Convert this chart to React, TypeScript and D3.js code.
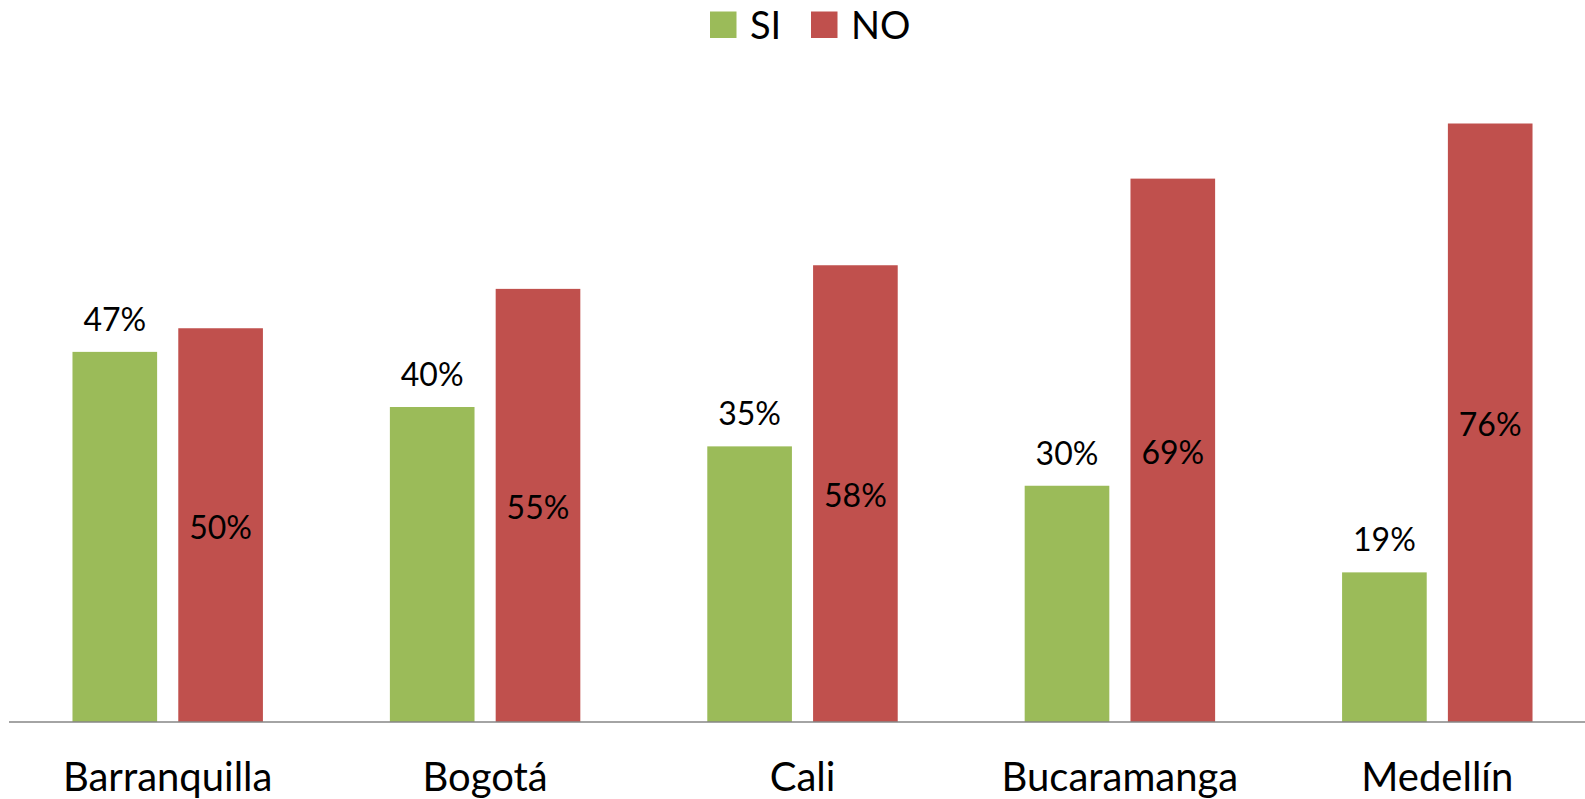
import React from "react";
import * as d3 from "d3";

const categories = ["Barranquilla", "Bogotá", "Cali", "Bucaramanga", "Medellín"];
const series = ["SI", "NO"];
const siValues = [47, 40, 35, 30, 19];
const noValues = [50, 55, 58, 69, 76];
const colors = { SI: "#9BBB59", NO: "#C0504D" };

const W = 1585;
const H = 799;
const FONT = "Lato, 'Open Sans', sans-serif";

export default function App() {
  const x0 = d3.scaleBand<string>().domain(categories).range([9, 1596]).paddingInner(0).paddingOuter(0);
  const x1 = d3.scaleBand<string>().domain(series).range([0, x0.bandwidth()]).paddingInner(0.2).paddingOuter(0.6);
  const y = d3.scaleLinear().domain([0, 80]).range([722, 92]);
  const valuesBy: Record<string, number[]> = { SI: siValues, NO: noValues };

  return (
    <svg width={W} height={H} style={{ position: "absolute", left: 0, top: 0, background: "#fff" }} fontFamily={FONT}>
      {/* legend */}
      <g>
        <rect x={710} y={11.5} width={26.5} height={26.5} fill={colors.SI} />
        <text x={750} y={38.5} fontSize={38} fill="#000">SI</text>
        <rect x={811} y={11.5} width={26.5} height={26.5} fill={colors.NO} />
        <text x={851} y={38.5} fontSize={38} fill="#000">NO</text>
      </g>
      {categories.map((c, i) => (
        <g key={c} transform={`translate(${x0(c)},0)`}>
          {series.map((s) => {
            const v = valuesBy[s][i];
            const bx = x1(s)!;
            const bw = x1.bandwidth();
            const top = y(v);
            return (
              <g key={s}>
                <rect x={bx} y={top} width={bw} height={y(0) - top} fill={(colors as any)[s]} />
                {s === "SI" ? (
                  <text x={bx + bw / 2} y={top - 21} textAnchor="middle" fontSize={32} fill="#000">{v}%</text>
                ) : (
                  <text x={bx + bw / 2} y={(top + y(0)) / 2} dy="0.42em" textAnchor="middle" fontSize={32} fill="#000">{v}%</text>
                )}
              </g>
            );
          })}
          <text x={x0.bandwidth() / 2} y={791} textAnchor="middle" fontSize={40} fill="#000">{c}</text>
        </g>
      ))}
      <line x1={9} x2={W} y1={y(0)} y2={y(0)} stroke="#868686" strokeWidth={1.5} />
    </svg>
  );
}
